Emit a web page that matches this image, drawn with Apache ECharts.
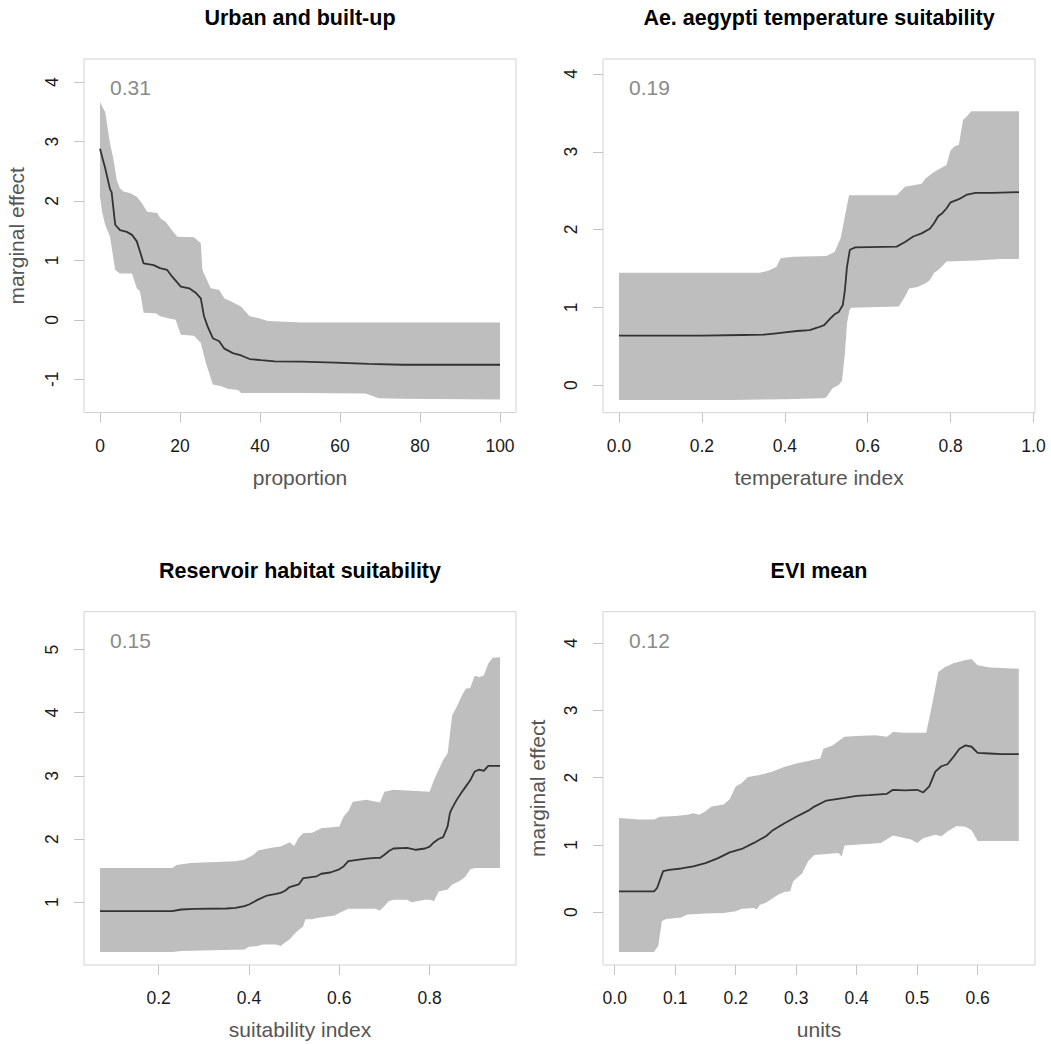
<!DOCTYPE html>
<html>
<head>
<meta charset="utf-8">
<script src="https://cdn.jsdelivr.net/npm/echarts@6/dist/echarts.min.js"></script>
<style>
html,body{margin:0;padding:0;background:#fff;}
#chart{width:1051px;height:1044px;}
</style>
</head>
<body>
<div id="chart"></div>
<script>
// ---------- DATA ----------
const titles = ['Urban and built-up', 'Ae. aegypti temperature suitability', 'Reservoir habitat suitability', 'EVI mean'];
const xNames = ['proportion', 'temperature index', 'suitability index', 'units'];
const yNames = ['marginal effect', '', '', 'marginal effect'];
const importances = ['0.31', '0.19', '0.15', '0.12'];

const urbanXTicks = [0, 20, 40, 60, 80, 100];
const urbanYTicks = [-1, 0, 1, 2, 3, 4];
const tempXTicks = [0, 0.2, 0.4, 0.6, 0.8, 1.0];
const tempYTicks = [0, 1, 2, 3, 4];
const resXTicks = [0.2, 0.4, 0.6, 0.8];
const resYTicks = [1, 2, 3, 4, 5];
const eviXTicks = [0, 0.1, 0.2, 0.3, 0.4, 0.5, 0.6];
const eviYTicks = [0, 1, 2, 3, 4];

const urbanMean = [[0,2.88],[1.3,2.55],[2.5,2.2],[2.9,2.15],[3.8,1.6],[5,1.51],[6.7,1.48],[8,1.43],[9.2,1.32],[10,1.15],[10.9,0.95],[13.4,0.92],[15,0.87],[16.8,0.84],[18,0.73],[20.2,0.56],[22.3,0.53],[24,0.45],[25.2,0.36],[26,0.06],[26.9,-0.11],[28.2,-0.31],[29.8,-0.36],[31,-0.48],[33.2,-0.56],[35.3,-0.6],[37.4,-0.66],[40.3,-0.68],[43.7,-0.7],[50.4,-0.705],[58.8,-0.72],[67.2,-0.74],[75.6,-0.756],[100,-0.756]];
const urbanUpper = [[0,3.67],[0.6,3.58],[1.3,3.5],[2.5,2.97],[3.4,2.69],[4.2,2.35],[5,2.21],[5.9,2.16],[7.6,2.13],[9.2,2.07],[10.5,1.96],[11.8,1.82],[14.3,1.8],[15.1,1.71],[16.4,1.65],[17.6,1.54],[19.3,1.4],[23.5,1.39],[25.2,1.29],[25.6,0.84],[27.7,0.53],[29.8,0.5],[31.1,0.36],[32.8,0.31],[35.3,0.22],[37.4,0.06],[39.5,0.03],[42,-0.02],[50.4,-0.045],[100,-0.045]];
const urbanLower = [[0,2.07],[0.6,1.79],[1.3,1.6],[2.5,1.4],[3.8,0.84],[5,0.78],[8,0.78],[9.2,0.53],[10,0.48],[10.9,0.12],[13.9,0.11],[15.1,0.06],[16.8,0.03],[18.9,0],[20.2,-0.25],[23.5,-0.27],[25.2,-0.39],[26.5,-0.73],[28.2,-1.09],[30.3,-1.12],[31.9,-1.16],[34.5,-1.18],[35.3,-1.23],[50.4,-1.23],[66.4,-1.24],[69.7,-1.32],[75.6,-1.33],[100,-1.34]];

const tempMean = [[0,0.635],[0.2,0.635],[0.3,0.643],[0.35,0.647],[0.38,0.665],[0.4,0.677],[0.43,0.695],[0.46,0.707],[0.48,0.74],[0.495,0.77],[0.51,0.857],[0.52,0.91],[0.53,0.94],[0.54,1.03],[0.545,1.22],[0.55,1.52],[0.557,1.74],[0.57,1.77],[0.67,1.78],[0.69,1.84],[0.71,1.91],[0.73,1.95],[0.75,2.01],[0.76,2.08],[0.77,2.17],[0.78,2.21],[0.79,2.27],[0.8,2.35],[0.82,2.39],[0.84,2.45],[0.86,2.47],[0.9,2.47],[0.965,2.48]];
const tempUpper = [[0,1.445],[0.34,1.445],[0.36,1.47],[0.38,1.52],[0.39,1.63],[0.42,1.65],[0.5,1.66],[0.52,1.71],[0.535,1.89],[0.545,2.17],[0.555,2.44],[0.67,2.44],[0.69,2.55],[0.73,2.59],[0.74,2.66],[0.76,2.74],[0.78,2.8],[0.79,2.83],[0.8,3.02],[0.81,3.07],[0.82,3.09],[0.83,3.41],[0.84,3.46],[0.85,3.52],[0.965,3.52]];
const tempLower = [[0,-0.193],[0.27,-0.193],[0.4,-0.184],[0.49,-0.17],[0.5,-0.16],[0.515,-0.04],[0.53,0],[0.538,0.056],[0.545,0.41],[0.55,0.79],[0.556,0.965],[0.56,0.995],[0.675,1.01],[0.69,1.14],[0.7,1.24],[0.72,1.26],[0.74,1.31],[0.75,1.35],[0.76,1.44],[0.77,1.48],[0.78,1.53],[0.79,1.59],[0.86,1.6],[0.92,1.62],[0.965,1.62]];

const resMean = [[0.07,0.858],[0.23,0.858],[0.25,0.884],[0.28,0.895],[0.35,0.9],[0.37,0.91],[0.39,0.937],[0.4,0.963],[0.42,1.04],[0.44,1.105],[0.46,1.13],[0.47,1.147],[0.48,1.18],[0.49,1.24],[0.51,1.28],[0.52,1.38],[0.53,1.39],[0.55,1.41],[0.56,1.45],[0.58,1.47],[0.6,1.52],[0.61,1.57],[0.62,1.65],[0.64,1.67],[0.66,1.69],[0.68,1.7],[0.69,1.7],[0.7,1.75],[0.71,1.81],[0.72,1.85],[0.75,1.86],[0.77,1.83],[0.79,1.85],[0.8,1.88],[0.81,1.95],[0.82,2.0],[0.83,2.03],[0.84,2.2],[0.845,2.41],[0.85,2.49],[0.86,2.62],[0.87,2.73],[0.88,2.83],[0.89,2.93],[0.9,3.07],[0.91,3.1],[0.92,3.08],[0.93,3.16],[0.956,3.16]];
const resUpper = [[0.07,1.54],[0.23,1.54],[0.24,1.59],[0.27,1.62],[0.37,1.65],[0.39,1.67],[0.41,1.75],[0.42,1.82],[0.45,1.86],[0.47,1.88],[0.49,1.95],[0.5,1.89],[0.51,2.02],[0.52,2.09],[0.54,2.1],[0.56,2.17],[0.6,2.2],[0.61,2.36],[0.62,2.44],[0.63,2.59],[0.66,2.62],[0.69,2.58],[0.7,2.75],[0.72,2.78],[0.8,2.75],[0.81,2.94],[0.83,3.25],[0.84,3.36],[0.85,3.96],[0.86,4.09],[0.87,4.25],[0.88,4.38],[0.89,4.39],[0.9,4.59],[0.91,4.56],[0.92,4.59],[0.93,4.78],[0.94,4.87],[0.956,4.88]];
const resLower = [[0.07,0.21],[0.23,0.21],[0.25,0.226],[0.39,0.25],[0.4,0.295],[0.42,0.305],[0.43,0.33],[0.46,0.33],[0.47,0.305],[0.48,0.36],[0.49,0.41],[0.5,0.49],[0.51,0.56],[0.52,0.62],[0.525,0.73],[0.54,0.73],[0.55,0.75],[0.57,0.77],[0.59,0.79],[0.6,0.83],[0.62,0.895],[0.68,0.895],[0.69,0.87],[0.7,0.94],[0.71,1.02],[0.72,1.04],[0.75,1.04],[0.76,1.0],[0.79,1.04],[0.8,1.04],[0.81,1.02],[0.82,1.17],[0.84,1.2],[0.85,1.28],[0.86,1.31],[0.87,1.35],[0.88,1.41],[0.89,1.52],[0.9,1.54],[0.956,1.54]];

const eviMean = [[0.007,0.31],[0.065,0.31],[0.07,0.36],[0.08,0.61],[0.09,0.63],[0.11,0.65],[0.13,0.68],[0.15,0.73],[0.17,0.8],[0.19,0.89],[0.21,0.94],[0.23,1.03],[0.25,1.13],[0.26,1.21],[0.28,1.32],[0.3,1.42],[0.32,1.51],[0.33,1.57],[0.35,1.66],[0.38,1.7],[0.4,1.73],[0.42,1.74],[0.45,1.76],[0.46,1.82],[0.48,1.81],[0.5,1.82],[0.51,1.78],[0.52,1.87],[0.53,2.09],[0.54,2.17],[0.55,2.2],[0.56,2.31],[0.57,2.43],[0.58,2.48],[0.59,2.46],[0.6,2.37],[0.62,2.36],[0.64,2.35],[0.668,2.35]];
const eviUpper = [[0.007,1.4],[0.04,1.38],[0.065,1.38],[0.075,1.42],[0.1,1.43],[0.12,1.45],[0.13,1.47],[0.14,1.45],[0.15,1.5],[0.16,1.57],[0.18,1.6],[0.19,1.68],[0.2,1.87],[0.21,1.92],[0.22,2.01],[0.24,2.04],[0.26,2.09],[0.28,2.16],[0.3,2.21],[0.32,2.25],[0.34,2.29],[0.345,2.43],[0.36,2.48],[0.38,2.61],[0.4,2.62],[0.43,2.63],[0.45,2.61],[0.46,2.68],[0.48,2.67],[0.515,2.67],[0.525,3.1],[0.535,3.57],[0.545,3.64],[0.56,3.7],[0.58,3.75],[0.59,3.76],[0.6,3.67],[0.62,3.64],[0.668,3.62]];
const eviLower = [[0.007,-0.59],[0.065,-0.59],[0.072,-0.5],[0.078,-0.13],[0.085,-0.1],[0.11,-0.08],[0.12,-0.035],[0.15,-0.02],[0.18,-0.01],[0.2,0.015],[0.21,0.05],[0.23,0.064],[0.235,0.04],[0.24,0.11],[0.25,0.14],[0.27,0.26],[0.28,0.3],[0.29,0.31],[0.295,0.46],[0.31,0.58],[0.32,0.76],[0.33,0.85],[0.37,0.88],[0.375,0.83],[0.38,0.99],[0.44,1.03],[0.46,1.14],[0.49,1.08],[0.5,1.03],[0.51,1.1],[0.53,1.15],[0.54,1.13],[0.55,1.2],[0.565,1.28],[0.58,1.27],[0.59,1.22],[0.6,1.06],[0.668,1.06]];

// ---------- LAYOUT ----------
const boxes = [
  {left: 84, top: 59, width: 432, height: 353.5},
  {left: 603, top: 59, width: 432, height: 353.7},
  {left: 84, top: 611.7, width: 432, height: 353.3},
  {left: 603, top: 611.7, width: 432, height: 353.3}
];
const xRanges = [[-4, 104], [-0.0386, 1.0036], [0.0346, 0.9914], [-0.0194, 0.6948]];
const yRanges = [[-1.56, 4.39], [-0.356, 4.193], [0.005, 5.60], [-0.785, 4.468]];
const xDecimals = [0, 1, 1, 1];
const yNameGaps = [57, 55, 55, 55];
const means = [urbanMean, tempMean, resMean, eviMean];
const uppers = [urbanUpper, tempUpper, resUpper, eviUpper];
const lowers = [urbanLower, tempLower, resLower, eviLower];
const xTicks = [urbanXTicks, tempXTicks, resXTicks, eviXTicks];
const yTicks = [urbanYTicks, tempYTicks, resYTicks, eviYTicks];

const FONT = '"Liberation Sans", Arial, Helvetica, sans-serif';
const BOX = '#d3d3d3';

const grid = [], xAxis = [], yAxis = [], series = [], graphic = [];
for (let i = 0; i < 4; i++) {
  const b = boxes[i];
  grid.push({left: b.left, top: b.top, width: b.width, height: b.height, show: true,
    borderColor: BOX, borderWidth: 1, backgroundColor: 'transparent', containLabel: false});
  const dec = xDecimals[i];
  xAxis.push({type: 'value', gridIndex: i, position: 'bottom', min: xRanges[i][0], max: xRanges[i][1],
    name: xNames[i], nameLocation: 'middle', nameGap: 54,
    nameTextStyle: {fontSize: 21, color: '#555', fontFamily: FONT},
    axisLine: {show: false, onZero: false}, splitLine: {show: false},
    axisTick: {show: true, inside: false, length: 10, customValues: xTicks[i], lineStyle: {color: '#c4c4c4', width: 1}},
    axisLabel: {show: true, margin: 24, customValues: xTicks[i], fontSize: 17.5, color: '#1a1a1a', fontFamily: FONT,
      formatter: v => Number(v).toFixed(dec)}
  });
  yAxis.push({type: 'value', gridIndex: i, position: 'left', min: yRanges[i][0], max: yRanges[i][1],
    name: yNames[i], nameLocation: 'middle', nameGap: yNameGaps[i],
    nameTextStyle: {fontSize: 21, color: '#555', fontFamily: FONT},
    axisLine: {show: false, onZero: false}, splitLine: {show: false},
    axisTick: {show: true, inside: false, length: 10, customValues: yTicks[i], lineStyle: {color: '#c4c4c4', width: 1}},
    axisLabel: {show: true, margin: 23, rotate: 90, customValues: yTicks[i], fontSize: 17.5, color: '#1a1a1a', fontFamily: FONT,
      formatter: v => String(Math.round(v))}
  });
  const up = uppers[i], lo = lowers[i];
  series.push({type: 'custom', xAxisIndex: i, yAxisIndex: i, z: 1, silent: true,
    data: [up[0]],
    renderItem: function (params, api) {
      if (params.dataIndex !== 0) return null;
      const pts = up.map(p => api.coord(p)).concat(lo.slice().reverse().map(p => api.coord(p)));
      return {type: 'polygon', shape: {points: pts}, style: {fill: '#bebebe', stroke: null}};
    }
  });
  series.push({type: 'line', xAxisIndex: i, yAxisIndex: i, z: 3, data: means[i],
    showSymbol: false, symbol: 'none', smooth: false,
    lineStyle: {color: '#333333', width: 1.8}});
  graphic.push({type: 'text', x: b.left + b.width / 2, y: b.top - 41,
    style: {text: titles[i], fill: '#000', fontSize: 21.5, fontWeight: 'bold', fontFamily: FONT, align: 'center', verticalAlign: 'middle'}});
  graphic.push({type: 'text', x: b.left + 26, y: b.top + 28.5,
    style: {text: importances[i], fill: '#8a8a8a', fontSize: 21, fontFamily: FONT, align: 'left', verticalAlign: 'middle'}});
}

const chart = echarts.init(document.getElementById('chart'), null, {renderer: 'svg', width: 1051, height: 1044});
chart.setOption({animation: false, backgroundColor: '#ffffff', grid, xAxis, yAxis, series, graphic});
</script>
</body>
</html>
